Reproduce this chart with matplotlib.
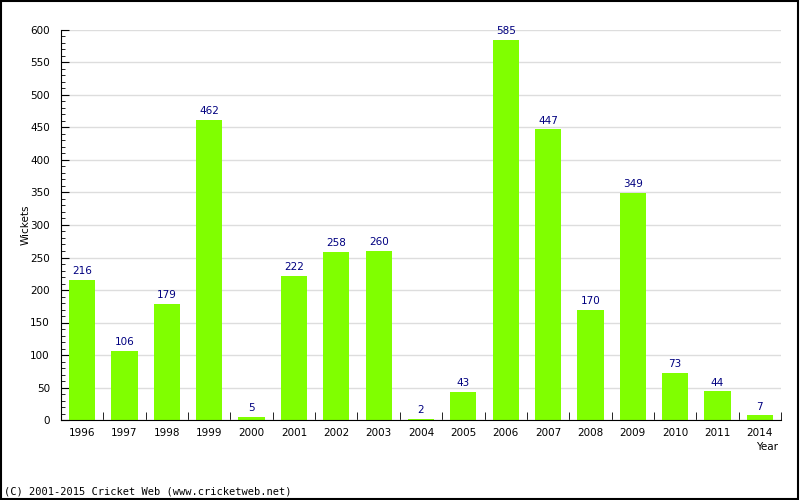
import numpy as np
import matplotlib.pyplot as plt
from matplotlib.ticker import MultipleLocator

years = ['1996', '1997', '1998', '1999', '2000', '2001', '2002', '2003', '2004',
         '2005', '2006', '2007', '2008', '2009', '2010', '2011', '2014']
wickets = [216, 106, 179, 462, 5, 222, 258, 260, 2, 43, 585, 447, 170, 349, 73, 44, 7]

fig = plt.figure(figsize=(8, 5), dpi=100)
ax = fig.add_axes([61/800, 80/500, 720/800, 390/500])

x = np.arange(len(years))
ax.bar(x, wickets, width=0.62, color='#80ff00', zorder=2)
for xi, v in zip(x, wickets):
    ax.text(xi, v + 6, str(v), ha='center', va='bottom', fontsize=7.5, color='#000080')

ax.set_xlim(-0.5, len(years) - 0.5)
ax.set_ylim(0, 600)
ax.yaxis.set_major_locator(MultipleLocator(50))
ax.yaxis.set_minor_locator(MultipleLocator(10))
ax.grid(axis='y', color='#dddddd', linewidth=1, zorder=0)

# x ticks sit between categories, labels under the bars
ax.set_xticks(x)
ax.set_xticklabels(years, fontsize=7.5)
ax.tick_params(axis='x', length=0, pad=6)
ax.set_xticks(np.arange(len(years) + 1) - 0.5, minor=True)
ax.tick_params(axis='x', which='minor', direction='in', length=6)
ax.tick_params(axis='y', which='major', direction='in', length=6, labelsize=7.5, pad=8)
ax.tick_params(axis='y', which='minor', direction='in', length=3)

for s in ['top', 'right']:
    ax.spines[s].set_visible(False)

fig.text(26/800, 1 - 225/500, 'Wickets', rotation=90,
         ha='center', va='center', fontsize=7.5)
fig.text(767/800, 1 - 447/500, 'Year', ha='center', va='center', fontsize=7.5)
fig.text(4/800, 1 - 492/500, '(C) 2001-2015 Cricket Web (www.cricketweb.net)',
         family='DejaVu Sans Mono', fontsize=7.5, ha='left', va='center')

# outer frame
fig.patches.append(plt.Rectangle((0.001, 0.002), 0.997, 0.996, transform=fig.transFigure,
                                 fill=False, edgecolor='black', linewidth=1.5))

plt.savefig('out.png', dpi=100)
